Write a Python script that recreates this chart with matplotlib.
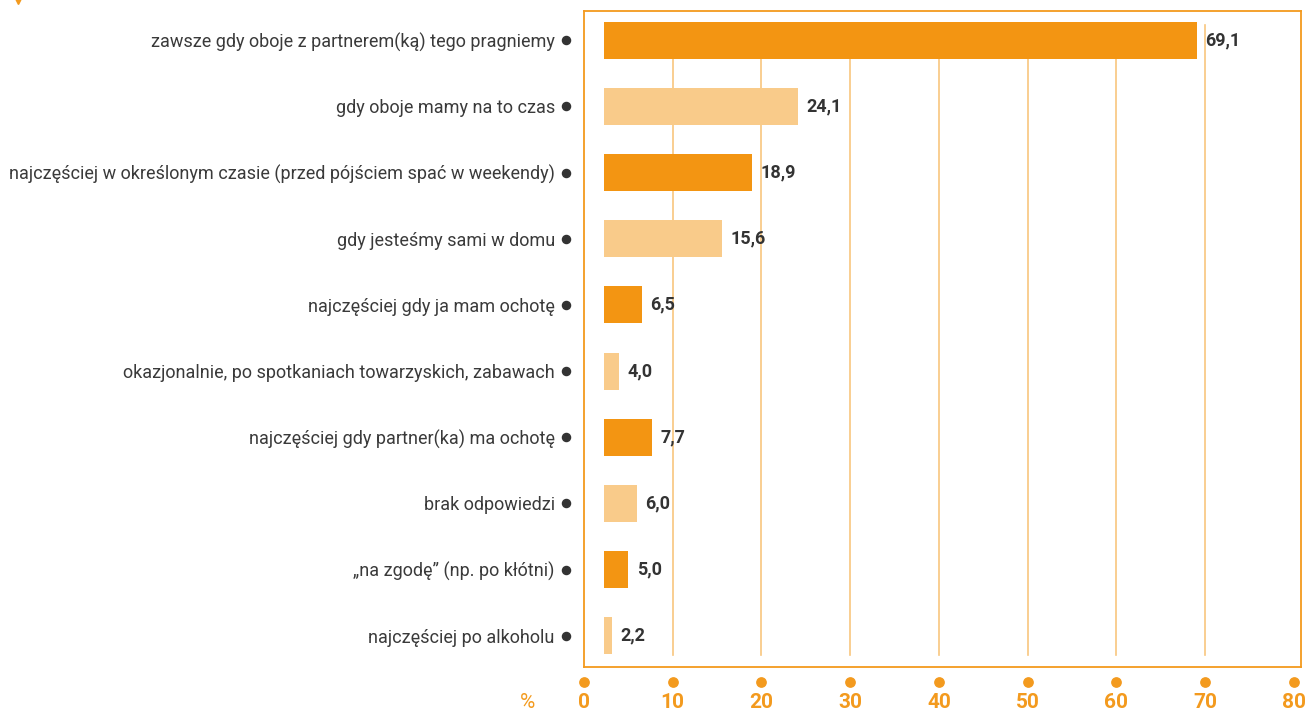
import matplotlib.pyplot as plt
from matplotlib import transforms
from matplotlib.lines import Line2D
import numpy as np

# --- Dane ---
categories = [
    "zawsze gdy oboje z partnerem(ką) tego pragniemy",
    "gdy oboje mamy na to czas",
    "najczęściej w określonym czasie (przed pójściem spać w weekendy)",
    "gdy jesteśmy sami w domu",
    "najczęściej gdy ja mam ochotę",
    "okazjonalnie, po spotkaniach towarzyskich, zabawach",
    "najczęściej gdy partner(ka) ma ochotę",
    "brak odpowiedzi",
    "„na zgodę” (np. po kłótni)",
    "najczęściej po alkoholu",
]
values = [69.1, 24.1, 18.9, 15.6, 6.5, 4.0, 7.7, 6.0, 5.0, 2.2]
x_ticks = [0, 10, 20, 30, 40, 50, 60, 70, 80]

# --- Styl ---
C_DARK = "#F39512"
C_LIGHT = "#F9CB8A"
C_GRID = "#F8C67E"
C_FRAME = "#F39A1E"
C_TEXT = "#333333"
BAR_START = 2.25      # slupki zaczynaja sie lekko od osi
MIN_WIDTH = 0.9

plt.rcParams.update({
    "font.family": ["Roboto", "DejaVu Sans"],
    "font.size": 13,
})

fig = plt.figure(figsize=(13.09, 7.11), dpi=100)
ax = fig.add_axes([584 / 1309, 44 / 711, 717 / 1309, 656 / 711])

y_pos = np.arange(len(categories))
colors = [C_DARK if i % 2 == 0 else C_LIGHT for i in range(len(categories))]
widths = [max(v - BAR_START, MIN_WIDTH) for v in values]

for x in x_ticks[1:-1]:
    ax.axvline(x, ymin=0.018, ymax=0.979, color=C_GRID, linewidth=1.2, zorder=1)

ax.barh(y_pos, widths, left=BAR_START, height=0.56, color=colors, zorder=2)

for yp, v, w in zip(y_pos, values, widths):
    ax.annotate(f"{v:.1f}".replace(".", ","), (BAR_START + w, yp),
                xytext=(6, 0), textcoords="offset points", va="center",
                ha="left", fontsize=13, fontweight="bold", color=C_TEXT,
                zorder=4)

ax.set_xlim(0, 80.8)
ax.set_ylim(9.47, -0.44)

ax.set_yticks(y_pos)
ax.set_yticklabels(categories, fontweight="normal", color="#3a3a3a", fontsize=13)
ax.tick_params(axis="y", length=0, pad=21)
ax.set_xticks([])

# kropki przy etykietach kategorii
trans_y = transforms.blended_transform_factory(ax.transAxes, ax.transData)
ax.scatter([-0.025] * len(y_pos), y_pos, s=34, color=C_TEXT, transform=trans_y,
           clip_on=False, zorder=5)

# os X: kropki i wartosci pod ramka
trans_x = transforms.blended_transform_factory(ax.transData, ax.transAxes)
ax.scatter(x_ticks, [-0.023] * len(x_ticks), s=45, color=C_FRAME,
           transform=trans_x, clip_on=False, zorder=5)
for x in x_ticks:
    ax.text(x, -0.054, str(x), transform=trans_x, ha="center", va="center",
            fontsize=15, fontweight="bold", color=C_FRAME)
ax.text(-6.4, -0.054, "%", transform=trans_x, ha="center", va="center",
        fontsize=15, color=C_FRAME)

for s in ax.spines.values():
    s.set_color(C_FRAME)
    s.set_linewidth(1.3)

# drobny znacznik przy gornej krawedzi
fig.add_artist(Line2D([18 / 1309], [0.999], marker="v", markersize=5,
                      color=C_FRAME, transform=fig.transFigure,
                      clip_on=False))

fig.savefig("out.png", dpi=100, facecolor="white")
